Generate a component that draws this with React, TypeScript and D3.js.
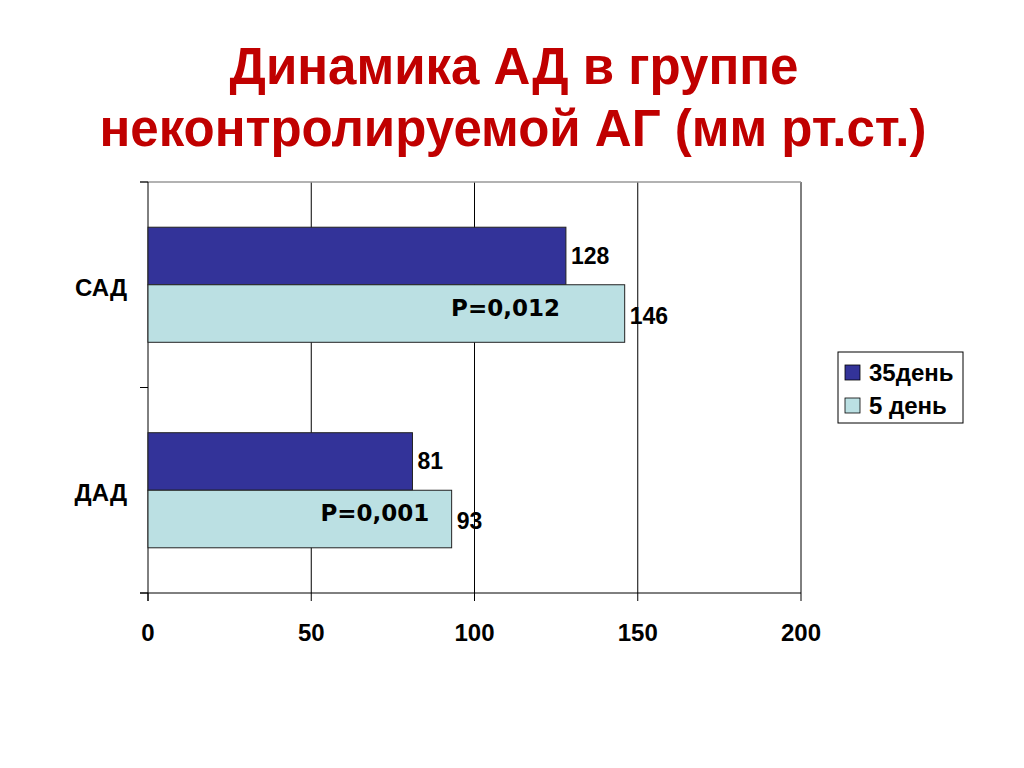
import React from "react";
import * as d3 from "d3";

const categories = ["САД", "ДАД"];
const series = ["35день", "5 день"];
const day35 = [128, 81];
const day5 = [146, 93];
const pLabels = ["P=0,012", "P=0,001"];
const pLabelPos = [109.5, 69.5];
const xTicks = [0, 50, 100, 150, 200];
const colors = ["#333399", "#BBE0E3"];

export default function App() {
  const W = 1024, H = 768;
  const left = 148, right = 801, top = 182, bottom = 593;
  const x = d3.scaleLinear().domain([0, 200]).range([left, right]);
  const y = d3.scaleBand().domain(categories).range([top, bottom]).paddingInner(0.44).paddingOuter(0.22);
  const inner = d3.scaleBand().domain(series).range([0, y.bandwidth()]);
  const font = "Liberation Sans, Arial, sans-serif";
  const values = [day35, day5];
  const catBoundaries = [top, (top + bottom) / 2, bottom];

  return (
    <svg width={W} height={H} style={{ position: "absolute", left: 0, top: 0 }} fontFamily={font}>
      <rect width={W} height={H} fill="#fff" />
      <text x={514} y={84} textAnchor="middle" fontSize={51} fontWeight="bold" fill="#C00000">Динамика АД в группе</text>
      <text x={513} y={146} textAnchor="middle" fontSize={51} fontWeight="bold" fill="#C00000">неконтролируемой АГ (мм рт.ст.)</text>

      {xTicks.slice(1).map((t) => (
        <line key={t} x1={x(t)} x2={x(t)} y1={top} y2={bottom} stroke="#000" strokeWidth={1} />
      ))}
      <line x1={140} x2={right} y1={top} y2={top} stroke="#999" strokeWidth={1.5} />
      <line x1={140} x2={right} y1={bottom} y2={bottom} stroke="#000" strokeWidth={1} />
      <line x1={left} x2={left} y1={top} y2={bottom + 8} stroke="#000" strokeWidth={1} />
      {catBoundaries.map((b, i) => (
        <line key={i} x1={140} x2={left} y1={b} y2={b} stroke="#000" strokeWidth={1} />
      ))}
      {xTicks.map((t) => (
        <line key={"t" + t} x1={x(t)} x2={x(t)} y1={bottom} y2={bottom + 8} stroke="#000" strokeWidth={1} />
      ))}
      {xTicks.map((t) => (
        <text key={"l" + t} x={x(t)} y={641} textAnchor="middle" fontSize={24} fontWeight="bold">{t}</text>
      ))}

      {categories.map((c, ci) => (
        <g key={c}>
          <text x={127} y={y(c)! + y.bandwidth() / 2 + 11} textAnchor="end" fontSize={24} fontWeight="bold">{c}</text>
          {series.map((s, si) => {
            const v = values[si][ci];
            const by = y(c)! + inner(s)!;
            return (
              <g key={s}>
                <rect x={x(0)} y={by} width={x(v) - x(0)} height={inner.bandwidth()} fill={colors[si]} stroke="#222" strokeWidth={1} />
                <text x={x(v) + 5} y={by + inner.bandwidth() / 2 + (si === 0 ? 8 : 10)} fontSize={23} fontWeight="bold">{v}</text>
              </g>
            );
          })}
          <text x={x(pLabelPos[ci])} y={y(c)! + inner(series[1])! + 31} textAnchor="middle" fontSize={23} fontWeight="bold" fontFamily="DejaVu Sans, Verdana, sans-serif">{pLabels[ci]}</text>
        </g>
      ))}

      <rect x={838} y={352} width={125} height={71} fill="#fff" stroke="#000" strokeWidth={1} />
      {series.map((s, i) => (
        <g key={s}>
          <rect x={845} y={365 + i * 33} width={15} height={15} fill={colors[i]} stroke="#000" strokeWidth={0.8} />
          <text x={869} y={381 + i * 33} fontSize={24} fontWeight="bold">{s}</text>
        </g>
      ))}
    </svg>
  );
}
